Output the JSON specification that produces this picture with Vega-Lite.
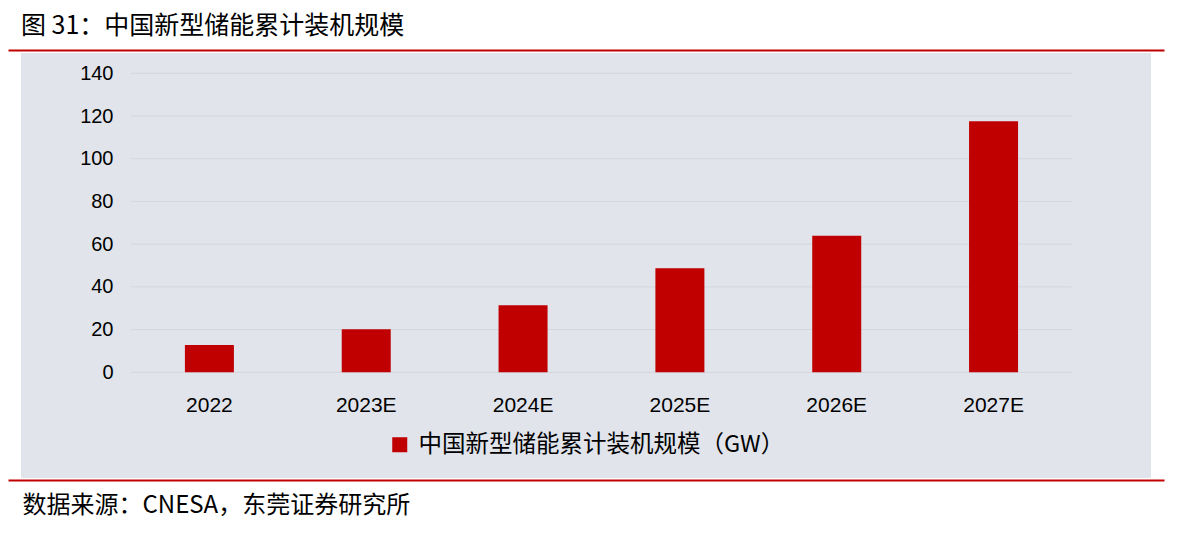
{
  "$schema": "https://vega.github.io/schema/vega-lite/v6.json",
  "width": 1130,
  "height": 425,
  "autosize": {"type": "none"},
  "padding": {"left": 21, "top": 53, "right": 36, "bottom": 58},
  "background": "white",
  "title": {
    "text": "图 31：中国新型储能累计装机规模",
    "anchor": "start",
    "frame": "group",
    "font": "Noto Sans CJK SC",
    "fontSize": 25,
    "fontWeight": "normal",
    "color": "#000000",
    "offset": 11
  },
  "config": {
    "view": {"fill": "#e1e4eb", "stroke": null},
    "font": "Liberation Sans"
  },
  "datasets": {
    "main": [
      {"year": "2022", "value": 12.8, "series": "中国新型储能累计装机规模（GW）"},
      {"year": "2023E", "value": 20.1, "series": "中国新型储能累计装机规模（GW）"},
      {"year": "2024E", "value": 31.4, "series": "中国新型储能累计装机规模（GW）"},
      {"year": "2025E", "value": 48.7, "series": "中国新型储能累计装机规模（GW）"},
      {"year": "2026E", "value": 63.9, "series": "中国新型储能累计装机规模（GW）"},
      {"year": "2027E", "value": 117.6, "series": "中国新型储能累计装机规模（GW）"}
    ],
    "grid": [
      {"v": 0}, {"v": 20}, {"v": 40}, {"v": 60}, {"v": 80}, {"v": 100}, {"v": 120}, {"v": 140}
    ]
  },
  "resolve": {"axis": {"x": "independent"}},
  "layer": [
    {
      "data": {"name": "grid"},
      "mark": {"type": "rule", "color": "#d3d6dd", "strokeWidth": 1},
      "encoding": {
        "x": {
          "datum": "2022",
          "type": "nominal",
          "bandPosition": 0,
          "axis": {
            "orient": "top",
            "offset": 3,
            "domain": true,
            "domainColor": "#c00000",
            "domainWidth": 2,
            "labels": false,
            "ticks": false,
            "grid": false,
            "title": null
          }
        },
        "x2": {"datum": "2027E", "bandPosition": 1},
        "y": {
          "field": "v",
          "type": "quantitative",
          "title": null,
          "scale": {"domain": [0, 140], "range": [319.3, 20.3], "nice": false, "zero": true},
          "axis": {
            "domain": false,
            "ticks": false,
            "grid": false,
            "offset": -94,
            "labelPadding": 2,
            "labelFontSize": 20,
            "labelColor": "#000000",
            "labelFont": "Liberation Sans",
            "values": [0, 20, 40, 60, 80, 100, 120, 140],
            "title": null
          }
        }
      }
    },
    {
      "data": {"name": "main"},
      "mark": {"type": "bar", "size": 49},
      "encoding": {
        "x": {
          "field": "year",
          "type": "nominal",
          "sort": null,
          "scale": {
            "type": "band",
            "domain": ["2022", "2023E", "2024E", "2025E", "2026E", "2027E"],
            "range": [-13, 1143],
            "paddingInner": 0,
            "paddingOuter": 0.6855,
            "align": 0.572
          },
          "axis": {
            "orient": "bottom",
            "offset": 2,
            "domain": true,
            "domainColor": "#c00000",
            "domainWidth": 2,
            "ticks": false,
            "tickSize": 0,
            "grid": false,
            "labelAngle": 0,
            "labelPadding": -86,
            "labelFontSize": 21,
            "labelFont": "Liberation Sans",
            "labelColor": "#000000",
            "title": "数据来源：CNESA，东莞证券研究所",
            "titleFont": "Noto Sans CJK SC",
            "titleFontSize": 24,
            "titleFontWeight": "normal",
            "titleColor": "#000000",
            "titleAnchor": "start",
            "titleAlign": "left",
            "titleBaseline": "middle",
            "titleX": 1,
            "titleY": 25
          }
        },
        "y": {
          "field": "value",
          "type": "quantitative",
          "title": null,
          "axis": {
            "domain": false,
            "ticks": false,
            "grid": false,
            "offset": -94,
            "labelPadding": 2,
            "labelFontSize": 20,
            "labelColor": "#000000",
            "labelFont": "Liberation Sans",
            "values": [0, 20, 40, 60, 80, 100, 120, 140],
            "title": null
          }
        },
        "color": {
          "field": "series",
          "type": "nominal",
          "scale": {"range": ["#c00000"]},
          "legend": {
            "orient": "none",
            "legendX": 367,
            "legendY": 380,
            "title": null,
            "symbolType": "square",
            "symbolSize": 225,
            "symbolStrokeWidth": 0,
            "symbolOpacity": 1,
            "labelFont": "Noto Sans CJK SC",
            "labelFontSize": 23.5,
            "labelColor": "#000000",
            "labelOffset": 7,
            "labelLimit": 0
          }
        }
      }
    }
  ]
}
